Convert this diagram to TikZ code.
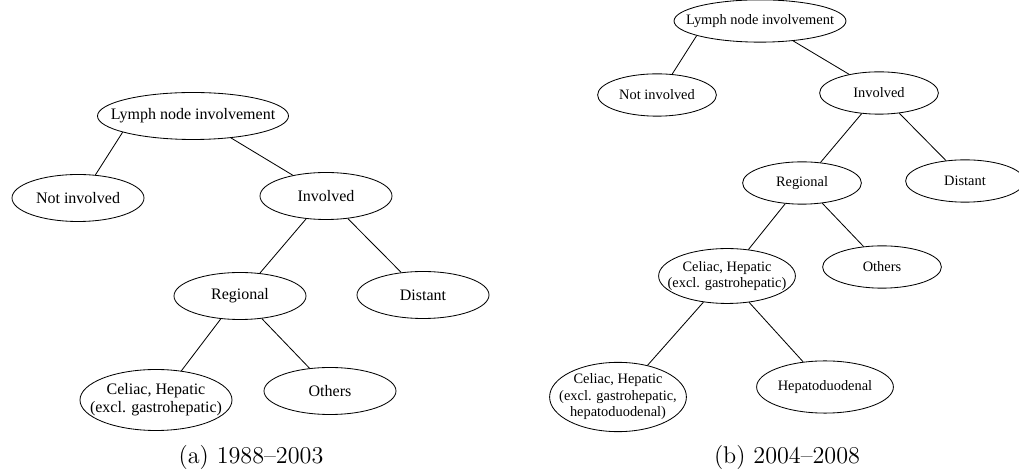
\documentclass[tikz,border=0pt]{standalone}
\usepackage{fontspec}
\usepackage{tikz}
\usetikzlibrary{shapes.geometric}
\newfontfamily\timesfont{Liberation Serif}
\newcommand{\nodefont}{\timesfont\fontsize{9.6}{11}\selectfont}
\tikzstyle{tree}=[x=0.6pt, y=-0.6pt, line width=0.5pt]
\tikzstyle{oval}=[ellipse, draw, inner sep=0pt, minimum width=79.2pt, minimum height=28.2pt, font=\nodefont]
\tikzstyle{rootoval}=[oval, inner xsep=-9.5pt, minimum width=114.6pt]
\tikzstyle{multi}=[oval, align=center, inner xsep=-7.5pt, minimum width=91.2pt, minimum height=36.6pt]
\tikzstyle{subcap}=[font=\fontsize{14.5}{17}\selectfont]
\begin{document}
\begin{tikzpicture}[tree]
	\useasboundingbox (0,0) rectangle (1019,472);
	%The first tree
	\node[rootoval] (lymphA) at (193,116) {Lymph node involvement};
	\node[oval] (notA) at (78,198) {Not involved};
	\node[oval] (invA) at (326,196) {Involved};
	\node[oval] (regA) at (240,296) {Regional};
	\node[oval] (distA) at (423,295) {Distant};
	\node[multi] (celA) at (156,400) {Celiac, Hepatic\\(excl. gastrohepatic)};
	\node[oval] (othA) at (330,391) {Others};
	\draw (lymphA.193) -- (notA.53);
	\draw (lymphA.330) -- (invA.148);
	\draw (invA.229) -- (regA.49);
	\draw (invA.314) -- (distA.134);
	\draw (regA.230) -- (celA.49);
	\draw (regA.314) -- (othA.132);
	\node[subcap] (capA) at (251,457) {(a) 1988--2003};

	%The second tree, drawn smaller
	\begin{scope}[every node/.append style={scale=0.9}]
	\node[rootoval] (lymphB) at (760,21) {Lymph node involvement};
	\node[oval] (notB) at (657,95) {Not involved};
	\node[oval] (invB) at (879,93) {Involved};
	\node[oval] (regB) at (802,183) {Regional};
	\node[oval] (distB) at (965,181) {Distant};
	\node[multi] (celB) at (727,276) {Celiac, Hepatic\\(excl. gastrohepatic)};
	\node[oval] (othB) at (882,267) {Others};
	\node[multi, minimum height=46.2pt] (cel2B) at (618,397) {Celiac, Hepatic\\(excl. gastrohepatic,\\hepatoduodenal)};
	\node[oval, minimum width=91.2pt, minimum height=34.8pt] (hepB) at (825,387) {Hepatoduodenal};
	\end{scope}
	\draw (lymphB.193) -- (notB.54);
	\draw (lymphB.329) -- (invB.148);
	\draw (invB.230) -- (regB.48);
	\draw (invB.315) -- (distB.133);
	\draw (regB.231) -- (celB.51);
	\draw (regB.315) -- (othB.132);
	\draw (celB.228) -- (cel2B.47);
	\draw (celB.310) -- (hepB.131);
	\node[subcap] (capB) at (787,457) {(b) 2004--2008};
\end{tikzpicture}
\end{document}
